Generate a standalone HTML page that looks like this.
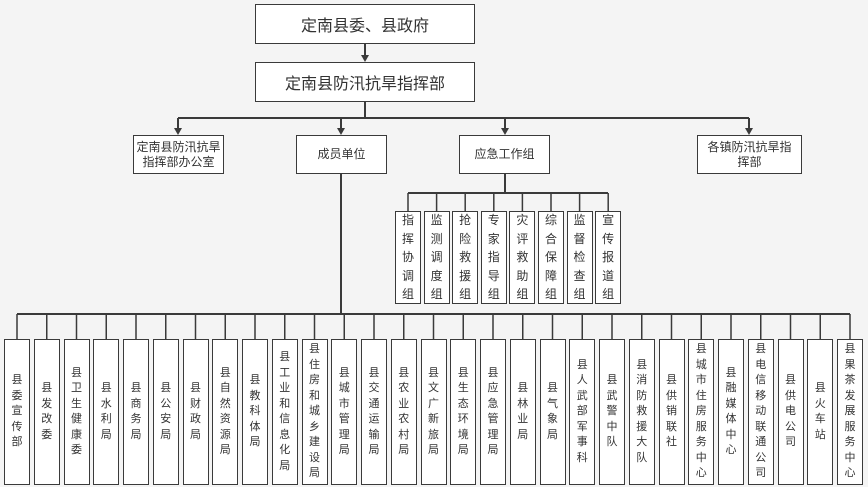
<!DOCTYPE html>
<html><head><meta charset="utf-8"><style>
body{margin:0;width:868px;height:487px;background:#f4f4f4;position:relative;overflow:hidden;font-family:"Liberation Sans","Noto Sans CJK SC",sans-serif;color:#333}
.b{position:absolute;background:#fff;border:1.5px solid #3a3a3a;box-sizing:border-box;display:flex;align-items:center;justify-content:center;text-align:center}
.t{font-size:16px}
.m{font-size:12px;line-height:15px}
.row{position:absolute;display:flex}
.row .b{position:static;width:26px;font-size:11px;line-height:15.5px;flex:none}
svg{position:absolute;left:0;top:0}
</style></head><body>
<svg width="868" height="487">
<g stroke="#3a3a3a" stroke-width="2" fill="none">
<line x1="365" y1="43" x2="365" y2="56"/>
<line x1="365" y1="101" x2="365" y2="118"/>
<line x1="178" y1="118" x2="749" y2="118"/>
<line x1="178" y1="118" x2="178" y2="129"/>
<line x1="341" y1="118" x2="341" y2="129"/>
<line x1="505" y1="118" x2="505" y2="129"/>
<line x1="749" y1="118" x2="749" y2="129"/>
<line x1="505" y1="173" x2="505" y2="193"/>
<line x1="408" y1="193" x2="608" y2="193"/>
<line x1="341" y1="173" x2="341" y2="314"/>
<line x1="17" y1="314" x2="850" y2="314"/>
</g>
<g fill="#3a3a3a">
<polygon points="361,55 369,55 365,62"/>
<polygon points="174,128 182,128 178,135"/>
<polygon points="337,128 345,128 341,135"/>
<polygon points="501,128 509,128 505,135"/>
<polygon points="745,128 753,128 749,135"/>
</g>
<g stroke="#3a3a3a" stroke-width="1.5">
<line x1="408" y1="193" x2="408" y2="211"/><line x1="436.6" y1="193" x2="436.6" y2="211"/><line x1="465.2" y1="193" x2="465.2" y2="211"/><line x1="493.8" y1="193" x2="493.8" y2="211"/><line x1="522.4" y1="193" x2="522.4" y2="211"/><line x1="551" y1="193" x2="551" y2="211"/><line x1="579.6" y1="193" x2="579.6" y2="211"/><line x1="608.2" y1="193" x2="608.2" y2="211"/>
<line x1="17" y1="314" x2="17" y2="339"/><line x1="46.75" y1="314" x2="46.75" y2="339"/><line x1="76.5" y1="314" x2="76.5" y2="339"/><line x1="106.25" y1="314" x2="106.25" y2="339"/><line x1="136" y1="314" x2="136" y2="339"/><line x1="165.75" y1="314" x2="165.75" y2="339"/><line x1="195.5" y1="314" x2="195.5" y2="339"/><line x1="225.25" y1="314" x2="225.25" y2="339"/><line x1="255" y1="314" x2="255" y2="339"/><line x1="284.75" y1="314" x2="284.75" y2="339"/><line x1="314.5" y1="314" x2="314.5" y2="339"/><line x1="344.25" y1="314" x2="344.25" y2="339"/><line x1="374" y1="314" x2="374" y2="339"/><line x1="403.75" y1="314" x2="403.75" y2="339"/><line x1="433.5" y1="314" x2="433.5" y2="339"/><line x1="463.25" y1="314" x2="463.25" y2="339"/><line x1="493" y1="314" x2="493" y2="339"/><line x1="522.75" y1="314" x2="522.75" y2="339"/><line x1="552.5" y1="314" x2="552.5" y2="339"/><line x1="582.25" y1="314" x2="582.25" y2="339"/><line x1="612" y1="314" x2="612" y2="339"/><line x1="641.75" y1="314" x2="641.75" y2="339"/><line x1="671.5" y1="314" x2="671.5" y2="339"/><line x1="701.25" y1="314" x2="701.25" y2="339"/><line x1="731" y1="314" x2="731" y2="339"/><line x1="760.75" y1="314" x2="760.75" y2="339"/><line x1="790.5" y1="314" x2="790.5" y2="339"/><line x1="820.25" y1="314" x2="820.25" y2="339"/><line x1="850" y1="314" x2="850" y2="339"/>
</g>
</svg>
<div class="b t" style="left:255px;top:4px;width:220px;height:40px">定南县委、县政府</div>
<div class="b t" style="left:255px;top:62px;width:220px;height:40px">定南县防汛抗旱指挥部</div>
<div class="b m" style="left:133px;top:135px;width:91px;height:39px">定南县防汛抗旱<br>指挥部办公室</div>
<div class="b m" style="left:296px;top:135px;width:91px;height:39px">成员单位</div>
<div class="b m" style="left:459px;top:135px;width:91px;height:39px">应急工作组</div>
<div class="b m" style="left:697px;top:135px;width:105px;height:39px">各镇防汛抗旱指<br>挥部</div>
<div class="row" style="left:395px;top:211px;gap:2.6px">
<div class="b" style="height:93px;line-height:18.5px;font-size:12px">指<br>挥<br>协<br>调<br>组</div>
<div class="b" style="height:93px;line-height:18.5px;font-size:12px">监<br>测<br>调<br>度<br>组</div>
<div class="b" style="height:93px;line-height:18.5px;font-size:12px">抢<br>险<br>救<br>援<br>组</div>
<div class="b" style="height:93px;line-height:18.5px;font-size:12px">专<br>家<br>指<br>导<br>组</div>
<div class="b" style="height:93px;line-height:18.5px;font-size:12px">灾<br>评<br>救<br>助<br>组</div>
<div class="b" style="height:93px;line-height:18.5px;font-size:12px">综<br>合<br>保<br>障<br>组</div>
<div class="b" style="height:93px;line-height:18.5px;font-size:12px">监<br>督<br>检<br>查<br>组</div>
<div class="b" style="height:93px;line-height:18.5px;font-size:12px">宣<br>传<br>报<br>道<br>组</div>
</div>
<div class="row" style="left:4px;top:339px;gap:3.75px">
<div class="b" style="height:146px">县<br>委<br>宣<br>传<br>部</div>
<div class="b" style="height:146px">县<br>发<br>改<br>委</div>
<div class="b" style="height:146px">县<br>卫<br>生<br>健<br>康<br>委</div>
<div class="b" style="height:146px">县<br>水<br>利<br>局</div>
<div class="b" style="height:146px">县<br>商<br>务<br>局</div>
<div class="b" style="height:146px">县<br>公<br>安<br>局</div>
<div class="b" style="height:146px">县<br>财<br>政<br>局</div>
<div class="b" style="height:146px">县<br>自<br>然<br>资<br>源<br>局</div>
<div class="b" style="height:146px">县<br>教<br>科<br>体<br>局</div>
<div class="b" style="height:146px">县<br>工<br>业<br>和<br>信<br>息<br>化<br>局</div>
<div class="b" style="height:146px">县<br>住<br>房<br>和<br>城<br>乡<br>建<br>设<br>局</div>
<div class="b" style="height:146px">县<br>城<br>市<br>管<br>理<br>局</div>
<div class="b" style="height:146px">县<br>交<br>通<br>运<br>输<br>局</div>
<div class="b" style="height:146px">县<br>农<br>业<br>农<br>村<br>局</div>
<div class="b" style="height:146px">县<br>文<br>广<br>新<br>旅<br>局</div>
<div class="b" style="height:146px">县<br>生<br>态<br>环<br>境<br>局</div>
<div class="b" style="height:146px">县<br>应<br>急<br>管<br>理<br>局</div>
<div class="b" style="height:146px">县<br>林<br>业<br>局</div>
<div class="b" style="height:146px">县<br>气<br>象<br>局</div>
<div class="b" style="height:146px">县<br>人<br>武<br>部<br>军<br>事<br>科</div>
<div class="b" style="height:146px">县<br>武<br>警<br>中<br>队</div>
<div class="b" style="height:146px">县<br>消<br>防<br>救<br>援<br>大<br>队</div>
<div class="b" style="height:146px">县<br>供<br>销<br>联<br>社</div>
<div class="b" style="height:146px">县<br>城<br>市<br>住<br>房<br>服<br>务<br>中<br>心</div>
<div class="b" style="height:146px">县<br>融<br>媒<br>体<br>中<br>心</div>
<div class="b" style="height:146px">县<br>电<br>信<br>移<br>动<br>联<br>通<br>公<br>司</div>
<div class="b" style="height:146px">县<br>供<br>电<br>公<br>司</div>
<div class="b" style="height:146px">县<br>火<br>车<br>站</div>
<div class="b" style="height:146px">县<br>果<br>茶<br>发<br>展<br>服<br>务<br>中<br>心</div>
</div>
</body></html>
